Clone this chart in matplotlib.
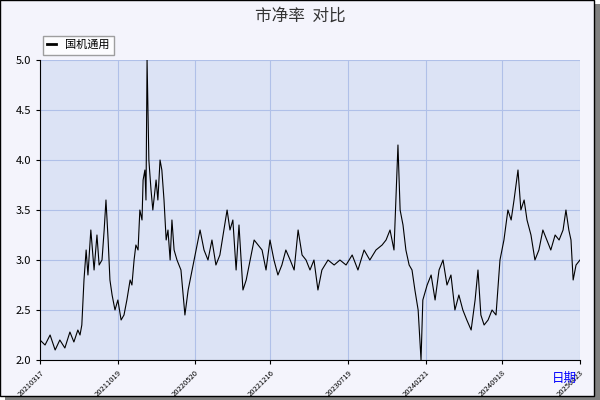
import matplotlib
matplotlib.use("Agg")
import matplotlib.pyplot as plt
import numpy as np
import pandas as pd
from matplotlib.patches import Rectangle

plt.rcParams['font.family'] = ['Noto Sans CJK SC', 'DejaVu Sans']

tick_labels = ["20210317", "20211019", "20220520", "20221216", "20230719", "20240221", "20240918", "20250423"]
series_name = "国机通用"
start_date = "2021-03-17"
day_offsets = [
    0, 14, 28, 42, 55, 69, 83, 94, 105, 111, 116, 122, 128, 133, 141, 150, 158, 164, 172, 178,
    183, 189, 194, 200, 208, 216, 225, 233, 241, 250, 255, 261, 266, 272, 277, 283, 286, 291, 294, 297,
    302, 308, 313, 322, 327, 333, 338, 344, 350, 355, 361, 366, 372, 380, 391, 402, 411, 422, 433, 444,
    455, 466, 477, 488, 499, 510, 519, 527, 535, 544, 552, 558, 563, 572, 583, 594, 605, 616, 627, 638,
    649, 660, 671, 682, 694, 705, 716, 727, 738, 749, 760, 771, 782, 799, 816, 832, 849, 866, 882, 899,
    915, 932, 949, 960, 971, 982, 993, 999, 1007, 1015, 1024, 1032, 1040, 1049, 1057, 1062, 1074, 1085, 1096, 1107,
    1118, 1129, 1140, 1151, 1162, 1173, 1184, 1196, 1207, 1215, 1223, 1232, 1243, 1254, 1265, 1276, 1287, 1298, 1307, 1315,
    1326, 1334, 1343, 1351, 1362, 1373, 1384, 1395, 1406, 1417, 1429, 1440, 1451, 1459, 1467, 1473, 1479, 1487, 1498,
]
values = [
    2.2, 2.15, 2.25, 2.1, 2.2, 2.12, 2.28, 2.18, 2.3, 2.25, 2.35, 2.8, 3.1, 2.85, 3.3, 2.9, 3.25, 2.95, 3.0, 3.3,
    3.6, 3.2, 2.8, 2.65, 2.5, 2.6, 2.4, 2.45, 2.6, 2.8, 2.75, 3.0, 3.15, 3.1, 3.5, 3.4, 3.8, 3.9, 3.6, 5.0,
    4.0, 3.7, 3.5, 3.8, 3.6, 4.0, 3.9, 3.6, 3.2, 3.3, 3.0, 3.4, 3.1, 3.0, 2.9, 2.45, 2.7, 2.9, 3.1, 3.3,
    3.1, 3.0, 3.2, 2.95, 3.05, 3.3, 3.5, 3.3, 3.4, 2.9, 3.35, 3.0, 2.7, 2.8, 3.0, 3.2, 3.15, 3.1, 2.9, 3.2,
    3.0, 2.85, 2.95, 3.1, 3.0, 2.9, 3.3, 3.05, 3.0, 2.9, 3.0, 2.7, 2.9, 3.0, 2.95, 3.0, 2.95, 3.05, 2.9, 3.1,
    3.0, 3.1, 3.15, 3.2, 3.3, 3.1, 4.15, 3.5, 3.35, 3.1, 2.95, 2.9, 2.7, 2.5, 2.0, 2.6, 2.75, 2.85, 2.6, 2.9,
    3.0, 2.75, 2.85, 2.5, 2.65, 2.5, 2.4, 2.3, 2.6, 2.9, 2.45, 2.35, 2.4, 2.5, 2.45, 3.0, 3.2, 3.5, 3.4, 3.6,
    3.9, 3.5, 3.6, 3.4, 3.25, 3.0, 3.1, 3.3, 3.2, 3.1, 3.25, 3.2, 3.3, 3.5, 3.3, 3.2, 2.8, 2.95, 3.0,
]
dates = pd.Timestamp(start_date) + pd.to_timedelta(day_offsets, unit="D")

fig = plt.figure(figsize=(6, 4), dpi=100, facecolor="white")
fig.patches.append(Rectangle((0.008, 0.0), 0.992, 0.99, transform=fig.transFigure, facecolor="#808080", zorder=-2))
fig.patches.append(Rectangle((0.0, 0.01), 0.99, 0.99, transform=fig.transFigure, facecolor="#f4f4fc", edgecolor="black", lw=1, zorder=-1))
ax = fig.add_axes([40/600, 40/400, 540/600, 300/400])
ax.set_facecolor("#dce3f5")
ax.plot(dates, values, color="black", lw=0.8, label=series_name)
ax.set_xlim(dates[0], dates[-1])
ax.set_ylim(2.0, 5.0)
yt = np.arange(2.0, 5.01, 0.5)
ax.set_yticks(yt)
ax.set_yticklabels([f"{v:.1f}" for v in yt], fontsize=8)
tick_dates = [pd.Timestamp(t) for t in tick_labels]
ax.set_xticks(tick_dates)
ax.set_xticklabels(tick_labels, rotation=45, fontsize=5.5, ha="right", rotation_mode="anchor")
ax.grid(True, color="#b0c0e8", lw=0.8)
for s in ["top", "right"]:
    ax.spines[s].set_visible(False)
ax.tick_params(length=3)
fig.text(0.5, 0.96, "市净率  对比", ha="center", va="center", fontsize=12, color="#333333")
fig.text(0.94, 0.055, "日期", ha="center", va="center", fontsize=9, color="blue")
leg = ax.legend(loc="upper left", bbox_to_anchor=(-0.005, 1.1), fontsize=8, frameon=True, fancybox=False,
                edgecolor="#888888", handlelength=0.8)
leg.get_frame().set_facecolor("white")
for l in leg.get_lines():
    l.set_linewidth(2)
fig.savefig("out.png")
